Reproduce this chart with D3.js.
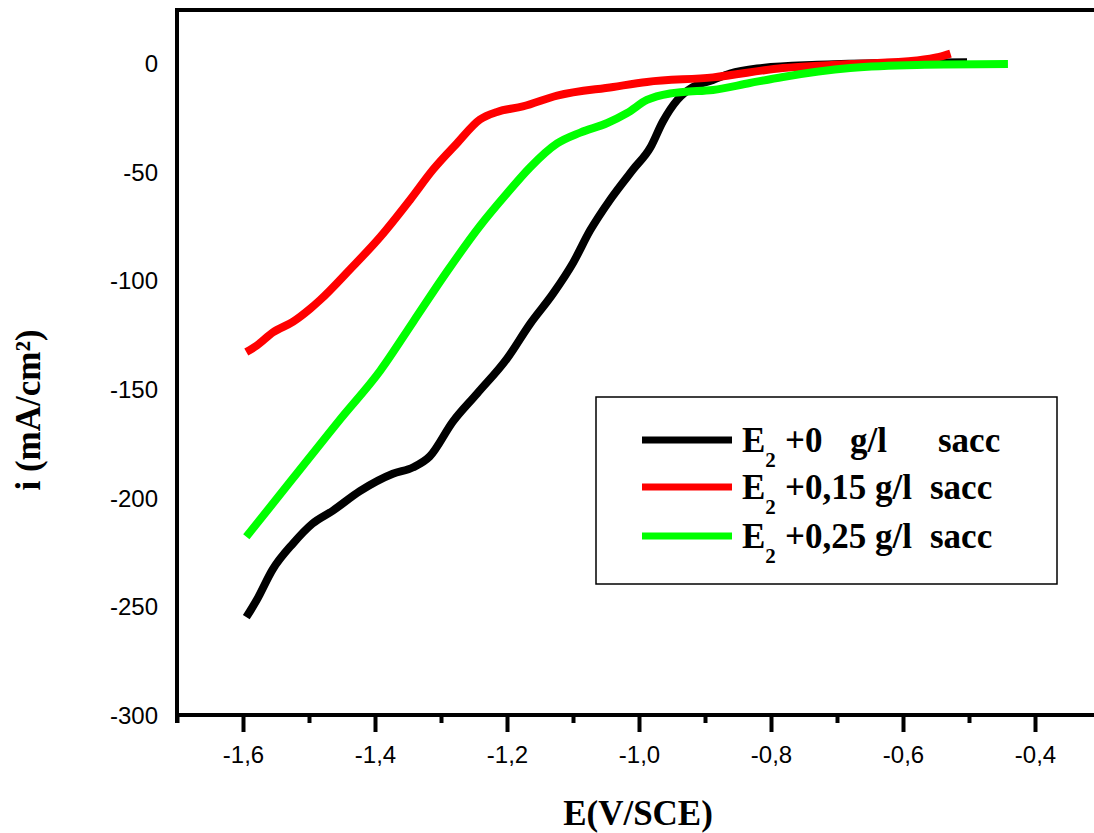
<!DOCTYPE html>
<html>
<head>
<meta charset="utf-8">
<script src="https://cdn.jsdelivr.net/npm/d3@7"></script>
<style>
  body { margin: 0; background: #fff; }
  svg { display: block; }
  .tick text { font-family: "Liberation Sans", Arial, sans-serif; font-size: 24px; fill: #000; }
  .title { font-family: "Liberation Serif", "Times New Roman", serif; font-weight: bold; fill: #000; }
</style>
</head>
<body>
<svg id="chart" width="1094" height="833"></svg>
<script>
// potential E (V/SCE) and current i (mA/cm2)
var blackE = [-1.595,-1.579,-1.555,-1.524,-1.495,-1.464,-1.423,-1.373,-1.342,-1.317,-1.282,-1.245,-1.2,-1.165,-1.13,-1.1,-1.074,-1.044,-1.009,-0.983,-0.964,-0.942,-0.918,-0.888,-0.862,-0.821,-0.73,-0.63,-0.503];
var blackI = [-255,-247,-233,-221,-212,-206,-197,-189,-186,-181,-165,-152,-136,-120,-106,-92,-77,-63,-49,-39,-27,-17,-11,-7.8,-4.8,-2.5,-0.8,0,0.4];

var redE = [-1.595,-1.579,-1.555,-1.524,-1.498,-1.483,-1.438,-1.392,-1.347,-1.312,-1.276,-1.241,-1.215,-1.176,-1.124,-1.039,-0.988,-0.888,-0.782,-0.68,-0.579,-0.545,-0.528];
var redI = [-133,-130,-124,-119,-113,-109,-95,-80,-63,-49,-37,-26,-22.5,-20,-15,-11,-8.7,-6.6,-2.3,-0.5,1.2,2.8,4.3];

var greenE = [-1.595,-1.524,-1.453,-1.392,-1.342,-1.291,-1.241,-1.2,-1.165,-1.124,-1.089,-1.048,-1.018,-0.988,-0.953,-0.933,-0.888,-0.832,-0.782,-0.68,-0.579,-0.441];
var greenI = [-218,-191,-164,-141.5,-119,-96,-75,-60,-48,-37,-32,-27.6,-23,-17,-14,-13.3,-12.4,-9.2,-6.4,-2.3,-0.9,-0.5];

var xTicks = [-1.6,-1.4,-1.2,-1.0,-0.8,-0.6,-0.4];
var xMinorTicks = [-1.7,-1.5,-1.3,-1.1,-0.9,-0.7,-0.5,-0.3];
var yTicks = [0,-50,-100,-150,-200,-250,-300];

var seriesNames = ["+0", "+0,15", "+0,25"];
var seriesColors = ["#000000", "#ff0000", "#00ff00"];

var svg = d3.select("#chart");

var xScale = d3.scaleLinear().domain([-1.7, -0.3]).range([177, 1101]);
var yScale = d3.scaleLinear().domain([-300, 24.4]).range([715, 10]);

// plain hyphen and decimal comma, like the original
function fmtX(d) { return d.toFixed(1).replace(".", ","); }
function fmtY(d) { return String(d); }

// minor ticks first
svg.append("g")
  .attr("transform", "translate(0,715)")
  .call(d3.axisBottom(xScale).tickValues(xMinorTicks).tickSize(8).tickFormat(""))
  .call(function(g){ g.select(".domain").remove(); })
  .selectAll("line").attr("stroke", "#000").attr("stroke-width", 4);

var xAxis = svg.append("g")
  .attr("transform", "translate(0,715)")
  .call(d3.axisBottom(xScale).tickValues(xTicks).tickSize(17).tickPadding(14).tickFormat(fmtX));
xAxis.select(".domain").remove();
xAxis.selectAll("line").attr("stroke", "#000").attr("stroke-width", 4);

var yAxis = svg.append("g")
  .attr("transform", "translate(177,0)")
  .call(d3.axisLeft(yScale).tickValues(yTicks).tickSize(0).tickPadding(19).tickFormat(fmtY));
yAxis.select(".domain").remove();
yAxis.selectAll("text").attr("dy", "0.36em");

// frame lines
svg.append("line").attr("x1", 177).attr("x2", 1094).attr("y1", 715).attr("y2", 715)
  .attr("stroke", "#000").attr("stroke-width", 4);
svg.append("line").attr("x1", 177).attr("x2", 177).attr("y1", 8).attr("y2", 723)
  .attr("stroke", "#000").attr("stroke-width", 4);
svg.append("line").attr("x1", 175).attr("x2", 1094).attr("y1", 10).attr("y2", 10)
  .attr("stroke", "#000").attr("stroke-width", 4);

// curves
var line = d3.line()
  .x(function(d){ return xScale(d[0]); })
  .y(function(d){ return yScale(d[1]); })
  .curve(d3.curveMonotoneX);

var series = [d3.zip(blackE, blackI), d3.zip(redE, redI), d3.zip(greenE, greenI)];
series.forEach(function(s, k){
  svg.append("path")
    .datum(s)
    .attr("d", line)
    .attr("fill", "none")
    .attr("stroke", seriesColors[k])
    .attr("stroke-width", 8)
    .attr("stroke-linejoin", "round");
});

// axis titles
svg.append("text").attr("class", "title")
  .attr("x", 638).attr("y", 825)
  .attr("text-anchor", "middle")
  .style("font-size", "35px")
  .text("E(V/SCE)");

svg.append("text").attr("class", "title")
  .attr("transform", "translate(40,410) rotate(-90)")
  .attr("text-anchor", "middle")
  .style("font-size", "35px")
  .text("i (mA/cm²)");

// legend
var legend = svg.append("g");
legend.append("rect")
  .attr("x", 596).attr("y", 397).attr("width", 461).attr("height", 187)
  .attr("fill", "#fff").attr("stroke", "#000").attr("stroke-width", 1.5);

var rowY = [440, 487, 536];
var gapX = [[850, 938], [875, 930], [875, 930]];
seriesNames.forEach(function(name, k){
  legend.append("line")
    .attr("x1", 642).attr("x2", 732)
    .attr("y1", rowY[k]).attr("y2", rowY[k])
    .attr("stroke", seriesColors[k]).attr("stroke-width", 7);
  var t = legend.append("text").attr("class", "title")
    .attr("y", rowY[k] + 12)
    .style("font-size", "35px");
  t.append("tspan").attr("x", 742).text("E");
  t.append("tspan").attr("dy", 15).style("font-size", "21px").text("2");
  t.append("tspan").attr("x", 785).attr("dy", -15).text(name);
  t.append("tspan").attr("x", gapX[k][0]).text("g/l");
  t.append("tspan").attr("x", gapX[k][1]).text("sacc");
});
</script>
</body>
</html>
